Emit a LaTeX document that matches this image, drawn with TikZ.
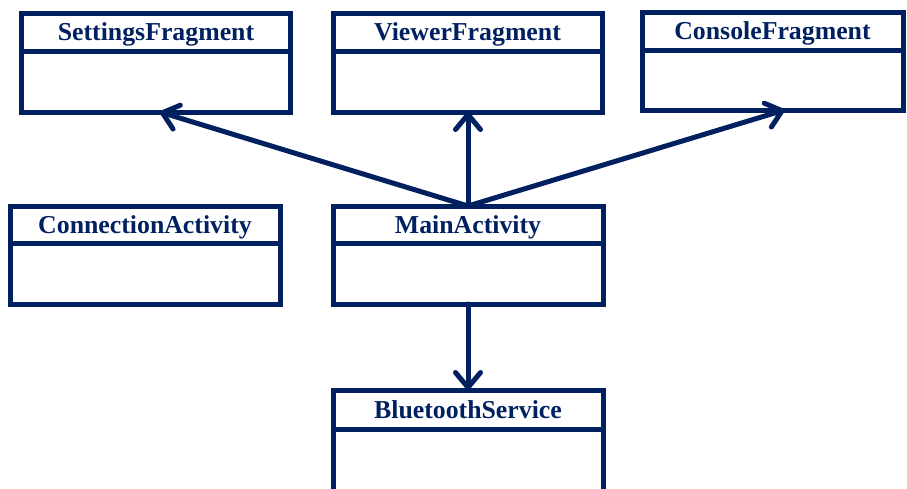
\documentclass[tikz,border=0pt]{standalone}
\usepackage{fontspec}
\setmainfont{Liberation Serif}
\usetikzlibrary{
    arrows.meta,
    positioning % for below=of
}
\definecolor{umlblue}{RGB}{0,32,96}

\tikzset{
    classhead/.style={draw=umlblue, line width=5pt, outer sep=0pt, inner sep=0pt,
        minimum width=269pt, minimum height=38pt, text=umlblue,
        text height=18pt, text depth=1pt,
        font=\fontsize{25.8}{30}\selectfont\bfseries},
    classbody/.style={draw=umlblue, line width=5pt, outer sep=0pt, inner sep=0pt,
        minimum width=269pt, minimum height=61pt},
    uses/.style={draw=umlblue, line width=5pt, line cap=round,
        -{Straight Barb[round, length=15pt, width=25pt]}}
}

\begin{document}
\begin{tikzpicture}[x=1pt, y=-1pt]
    \useasboundingbox (0,0) rectangle (907,488);
    \clip (0,0) rectangle (907,488);

    % top row
    \node[classhead] (settings) at (156,32) {SettingsFragment};
    \node[classbody, below=0pt of settings] (settingsbody) {};
    \node[classhead] (viewer) at (467.5,32) {ViewerFragment};
    \node[classbody, below=0pt of viewer] (viewerbody) {};
    \node[classhead, minimum width=261pt] (console) at (772.5,31) {ConsoleFragment};
    \node[classbody, minimum width=261pt, minimum height=60pt, below=0pt of console] (consolebody) {};

    % middle row
    \node[classhead, minimum width=270pt, minimum height=37pt] (connection) at (145,224.5) {ConnectionActivity};
    \node[classbody, minimum width=270pt, below=0pt of connection] (connectionbody) {};
    \node[classhead, minimum width=270pt, minimum height=37pt] (main) at (468,224.5) {MainActivity};
    \node[classbody, minimum width=270pt, below=0pt of main] (mainbody) {};

    % bottom, runs off the page
    \node[classhead, minimum width=270pt, minimum height=39pt] (bluetooth) at (468,409.5) {BluetoothService};
    \node[classbody, minimum width=270pt, minimum height=75pt, below=0pt of bluetooth] (bluetoothbody) {};

    % associations
    \coordinate (settingstip) at ([xshift=4pt]settingsbody.south);
    \coordinate (consoletip) at ([xshift=12pt]consolebody.south);
    \draw[uses] (main.north) -- (settingstip);
    \draw[uses] (main.north) -- (viewerbody.south -| main.north);
    \draw[uses] (main.north) -- (consoletip);
    \draw[uses] (mainbody.south) -- (bluetooth.north);
\end{tikzpicture}
\end{document}
